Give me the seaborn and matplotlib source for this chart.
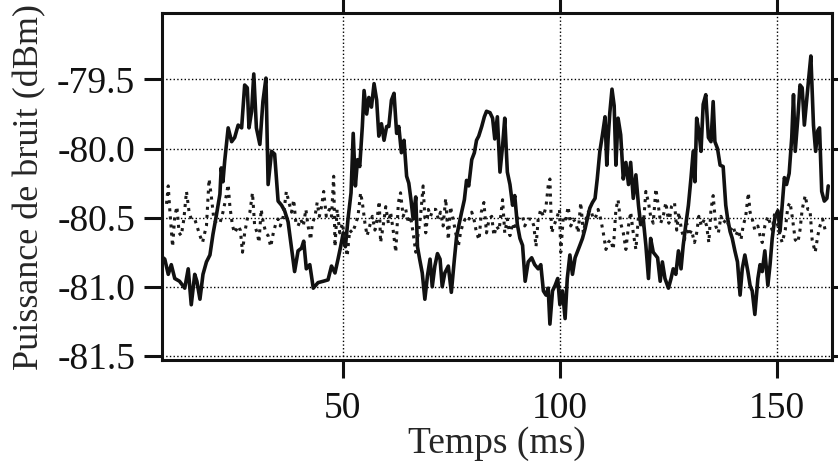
import matplotlib
matplotlib.use("Agg")
import matplotlib.pyplot as plt
import seaborn as sns

# solid trace (time in ms, power in dBm)
solid_t = [8.6, 9.0, 9.8, 10.5, 11.3, 12.4, 13.6, 14.4, 15.1, 15.9, 16.4, 17.1, 17.8, 18.6, 19.4,
           20.1, 20.9, 21.7, 22.0, 22.4, 22.8, 23.6, 24.4, 25.1, 25.9, 26.7, 27.4, 28.0, 28.4,
           29.0, 29.5, 30.1, 30.9, 31.6, 32.3, 32.8, 33.6, 34.3, 35.1, 35.9, 36.6, 37.4, 38.2,
           38.9, 39.7, 40.5, 41.0, 41.6, 42.4, 43.2, 44.3, 45.5,
           46.6, 47.4, 48.2, 48.9, 49.5, 50.1, 50.6, 51.2, 51.9, 52.4, 52.9, 53.4, 53.9, 54.5,
           54.9, 55.5, 56.0, 56.6, 57.2, 57.8, 58.3, 58.9, 59.5, 60.1, 60.6, 61.2, 61.8, 62.4,
           62.9, 63.5, 64.1, 64.7, 65.2, 65.7, 66.2, 66.8, 67.2, 67.7, 68.3, 68.9, 69.5, 70.1,
           70.6, 71.2, 71.8, 72.4, 72.9, 73.5, 74.3, 75.0, 75.7, 76.2, 76.7, 77.3, 78.0, 78.5,
           79.0, 79.7, 80.3, 80.8, 81.3, 82.0, 82.6, 83.1,
           83.9, 84.5, 85.0, 85.6, 86.2, 86.8, 87.3, 87.9, 88.5, 89.1, 89.6, 90.2, 90.8, 91.4,
           92.0, 92.7, 93.5, 94.2, 95.0, 95.6, 96.2, 96.8, 97.3, 97.7, 98.3, 98.9, 99.5, 100.0,
           100.6, 101.2, 101.7, 102.3, 102.9, 103.5, 104.0, 104.6, 105.2, 105.8, 106.3, 106.9,
           107.5, 108.1, 108.6, 109.2, 109.8, 110.4, 110.8, 111.1, 111.5, 112.0, 112.5, 112.9,
           113.4, 114.0, 114.6, 115.2, 115.8, 116.3, 116.9, 117.5, 118.1, 118.6, 119.2, 119.8,
           120.4, 120.9, 121.5,
           122.5, 123.1, 123.6, 124.2, 125.0, 125.6, 126.1, 126.7, 127.3, 127.9, 128.4, 129.0,
           129.6, 130.2, 130.7, 131.1, 131.5, 132.0, 132.5, 133.0, 133.6, 134.2, 134.8, 135.3,
           135.7, 136.3, 136.9, 137.6, 138.2, 138.6, 139.2, 139.7, 140.3, 140.9, 141.5, 142.0,
           142.6, 143.3, 143.8, 144.3, 144.9, 145.6, 146.1, 146.6, 147.2, 147.9, 148.4, 148.9,
           149.5, 150.2, 150.7, 151.2, 151.7, 152.2, 152.8, 153.4, 153.8, 154.2, 154.8, 155.3,
           155.8, 156.3, 156.8, 157.4, 157.8, 158.4, 158.9, 159.4, 159.8, 160.3, 160.9, 161.5,
           161.8]
solid_v = [-80.79, -80.80, -80.91, -80.84, -80.94, -80.96, -81.01, -80.87, -81.13, -80.91, -80.96,
           -81.09, -80.91, -80.82, -80.77, -80.62, -80.48, -80.33, -80.14, -80.24, -80.09, -79.85,
           -79.95, -79.92, -79.83, -79.85, -79.54, -79.56, -79.85, -79.73, -79.46, -79.85, -79.97,
           -79.66, -79.49, -80.26, -80.02, -80.04, -80.38, -80.41, -80.45, -80.53, -80.72, -80.89,
           -80.74, -80.72, -80.67, -80.87, -80.84, -81.01, -80.97, -80.96,
           -80.95, -80.85, -80.90, -80.80, -80.71, -80.61, -80.71, -80.51, -80.32, -79.89, -80.27,
           -80.08, -80.13, -79.84, -79.58, -79.75, -79.63, -79.70, -79.53, -79.65, -79.91, -79.82,
           -79.94, -79.84, -79.84, -79.65, -79.60, -79.89, -79.84, -80.03, -79.94, -80.20, -80.25,
           -80.37, -80.51, -80.35, -80.71, -80.80, -80.90, -81.09, -80.92, -80.80, -81.00, -80.85,
           -80.76, -80.80, -81.00, -80.90, -80.85, -81.04, -80.80, -80.64, -80.56, -80.47, -80.37,
           -80.23, -80.27, -80.08, -80.03, -79.94, -79.91, -79.84, -79.77, -79.73,
           -79.74, -79.78, -79.93, -79.77, -80.17, -79.98, -79.78, -80.17, -80.26, -80.41, -80.34,
           -80.55, -80.65, -80.70, -80.96, -80.82, -80.79, -80.84, -80.87, -80.84, -81.03, -81.06,
           -81.01, -81.27, -81.03, -80.99, -80.94, -81.13, -81.03, -81.23, -80.94, -80.77, -80.91,
           -80.79, -80.75, -80.70, -80.65, -80.58, -80.51, -80.43, -80.39, -80.36, -80.22, -80.02,
           -79.90, -79.77, -80.12, -79.93, -79.74, -79.57, -79.69, -80.12, -79.78, -79.90, -80.22,
           -80.10, -80.26, -80.10, -80.36, -80.19, -80.41, -80.55, -80.51, -80.70, -80.94, -80.65,
           -80.75,
           -80.79, -80.96, -80.82, -80.94, -81.01, -80.94, -80.87, -80.91, -80.74, -80.87, -80.70,
           -80.55, -80.41, -80.21, -80.02, -80.24, -79.78, -79.87, -80.02, -79.68, -79.61, -79.92,
           -79.95, -79.66, -79.95, -80.00, -80.12, -80.13, -80.41, -80.50, -80.60, -80.65, -80.74,
           -80.82, -81.06, -80.87, -80.77, -80.89, -80.99, -81.03, -81.20, -80.94, -80.84, -80.89,
           -80.74, -80.99, -80.84, -80.65, -80.50, -80.45, -80.60, -80.41, -80.21, -80.26, -80.18,
           -79.92, -79.61, -80.02, -79.78, -79.54, -79.56, -79.83, -79.66, -79.46, -79.33, -79.83,
           -80.02, -79.87, -79.85, -80.31, -80.38, -80.36, -80.27]

# dotted trace
dot_t = [9.4, 9.8, 10.1, 10.8, 11.3, 11.8, 12.3, 12.8, 13.4, 14.0, 14.6, 15.1, 15.9, 16.4, 17.1,
         17.7, 18.2, 18.6, 19.2, 19.7, 20.3, 20.9, 21.7, 22.4, 23.0, 23.6, 24.0, 24.6, 25.1, 25.9,
         26.4, 26.9, 27.4, 28.0, 28.6, 29.2, 29.7, 30.3, 30.7, 31.2, 31.7, 32.3, 32.8, 33.4, 34.0,
         34.6, 35.1, 35.6, 36.3, 37.0, 37.6, 38.2, 38.7, 39.2, 39.7, 40.3, 40.9, 41.5, 42.0, 42.6,
         43.0, 43.6, 44.1, 44.6, 45.1, 45.6, 46.2, 46.9,
         47.4, 47.9, 48.2, 48.7, 49.3, 49.9, 50.5, 51.0, 51.6, 52.2, 52.8, 53.5, 54.1, 54.5, 55.1,
         55.6, 56.2, 56.8, 57.4, 57.9, 58.4, 58.7, 59.3, 59.9, 60.5, 61.0, 61.6, 62.2, 62.8, 63.3,
         63.9, 64.5, 65.1, 65.6, 66.2, 66.8, 67.4, 67.9, 68.5, 69.1, 69.7, 70.2, 70.8, 71.4, 72.0,
         72.5, 73.1, 73.7, 74.3, 74.8, 75.4, 76.0, 76.6, 77.1, 77.7, 78.5, 79.1, 79.7, 80.2, 80.8,
         81.4, 81.9, 82.5, 83.1, 83.7, 84.3, 84.8, 85.4, 86.0,
         86.8, 87.3, 87.9, 88.5, 89.1, 89.6, 90.2, 90.8, 91.4, 91.9, 92.7, 93.5, 94.0, 94.5, 95.0,
         95.6, 96.2, 96.8, 97.3, 97.7, 98.1, 98.6, 99.2, 99.9, 100.2, 100.8, 101.4, 101.9, 102.5,
         103.1, 103.7, 104.2, 104.8, 105.4, 106.0, 106.5, 107.1, 107.7, 108.3, 108.8, 109.4,
         110.0, 110.6, 111.1, 111.7, 112.3, 112.9, 113.4, 114.0, 114.6, 115.2, 115.8, 116.3,
         116.9, 117.5, 118.1, 118.6, 119.2, 119.8, 120.4, 120.9, 121.5, 122.1, 122.7, 123.2,
         123.8, 124.4,
         125.1, 125.7, 126.4, 126.9, 127.4, 128.0, 128.7, 129.2, 129.7, 130.3, 131.0, 131.5,
         132.0, 132.6, 133.3, 133.8, 134.3, 134.8, 135.3, 135.9, 136.5, 137.1, 137.6, 138.4,
         139.2, 139.9, 140.5, 141.1, 141.7, 142.2, 142.8, 143.4, 143.8, 144.3, 144.9, 145.6,
         146.1, 146.6, 147.2, 147.9, 148.4, 148.9, 149.5, 150.2, 150.7, 151.2, 151.9, 152.5,
         153.0, 153.5, 154.2, 154.8, 155.3, 155.8, 156.5, 157.1, 157.6, 158.1, 158.8, 159.4,
         159.9, 160.5, 161.1, 161.7]
dot_v = [-80.40, -80.27, -80.42, -80.71, -80.49, -80.42, -80.61, -80.63, -80.51, -80.31, -80.46,
         -80.51, -80.51, -80.56, -80.63, -80.68, -80.61, -80.56, -80.22, -80.34, -80.51, -80.54,
         -80.54, -80.46, -80.37, -80.26, -80.42, -80.56, -80.61, -80.56, -80.59, -80.75, -80.61,
         -80.51, -80.46, -80.32, -80.56, -80.61, -80.68, -80.44, -80.54, -80.61, -80.63, -80.71,
         -80.61, -80.54, -80.51, -80.56, -80.49, -80.31, -80.39, -80.46, -80.37, -80.54, -80.56,
         -80.51, -80.56, -80.44, -80.56, -80.66, -80.54, -80.49, -80.39, -80.49, -80.42, -80.31,
         -80.49, -80.44,
         -80.49, -80.20, -80.71, -80.44, -80.61, -80.54, -80.66, -80.78, -80.59, -80.61, -80.56,
         -80.49, -80.32, -80.39, -80.54, -80.63, -80.56, -80.49, -80.59, -80.51, -80.38, -80.68,
         -80.56, -80.42, -80.54, -80.46, -80.59, -80.75, -80.39, -80.32, -80.49, -80.44, -80.54,
         -80.49, -80.61, -80.75, -80.61, -80.49, -80.27, -80.61, -80.44, -80.49, -80.44, -80.44,
         -80.51, -80.46, -80.56, -80.36, -80.66, -80.42, -80.51, -80.61, -80.71, -80.61, -80.54,
         -80.49, -80.51, -80.46, -80.51, -80.61, -80.66, -80.46, -80.39, -80.61, -80.51, -80.49,
         -80.63, -80.56, -80.59,
         -80.37, -80.61, -80.51, -80.63, -80.54, -80.59, -80.51, -80.49, -80.49, -80.56, -80.51,
         -80.51, -80.56, -80.71, -80.51, -80.44, -80.49, -80.42, -80.27, -80.22, -80.61, -80.56,
         -80.51, -80.44, -80.75, -80.49, -80.51, -80.42, -80.56, -80.51, -80.54, -80.61, -80.39,
         -80.61, -80.51, -80.46, -80.44, -80.51, -80.49, -80.44, -80.51, -80.61, -80.73, -80.68,
         -80.66, -80.73, -80.44, -80.37, -80.54, -80.61, -80.73, -80.56, -80.46, -80.61, -80.73,
         -80.49, -80.49, -80.56, -80.31, -80.39, -80.49, -80.54, -80.29, -80.42, -80.54, -80.49,
         -80.39,
         -80.54, -80.42, -80.39, -80.59, -80.46, -80.59, -80.66, -80.54, -80.63, -80.59, -80.68,
         -80.61, -80.49, -80.56, -80.51, -80.56, -80.68, -80.44, -80.34, -80.56, -80.61, -80.49,
         -80.54, -80.51, -80.59, -80.56, -80.63, -80.59, -80.66, -80.56, -80.49, -80.32, -80.46,
         -80.51, -80.59, -80.56, -80.63, -80.68, -80.56, -80.49, -80.54, -80.59, -80.46, -80.56,
         -80.63, -80.68, -80.59, -80.42, -80.39, -80.49, -80.66, -80.68, -80.59, -80.44, -80.34,
         -80.44, -80.44, -80.66, -80.75, -80.63, -80.56, -80.51, -80.59, -80.61]

x_ticks = [50, 100, 150]
y_ticks = [-81.5, -81.0, -80.5, -80.0, -79.5]

sns.set_style("ticks")
plt.rcParams['font.family'] = ['Liberation Serif', 'DejaVu Serif']
plt.rcParams['axes.unicode_minus'] = False

fig, ax = plt.subplots(figsize=(8.38, 4.70), dpi=100)
fig.subplots_adjust(left=0.193, right=0.993, bottom=0.234, top=0.972)

sns.lineplot(x=solid_t, y=solid_v, ax=ax, color="#111111", linewidth=2.6,
             sort=False, estimator=None)
sns.lineplot(x=dot_t, y=dot_v, ax=ax, color="#1a1a1a", linewidth=2.2, linestyle=":",
             sort=False, estimator=None)

ax.set_xlim(8.3, 162.7)
ax.set_ylim(-81.53, -79.02)
ax.set_xticks(x_ticks)
ax.set_yticks(y_ticks)
ax.set_yticklabels([f"{v:.1f}" for v in y_ticks])
ax.grid(True, linestyle=":", color="black", linewidth=1.0)

for s in ax.spines.values():
    s.set_linewidth(2.2)
    s.set_color("#111111")

ax.tick_params(axis="both", direction="out", length=13, width=2.2, labelsize=27,
               top=True, right=True, colors="#111111")
ax.tick_params(axis="x", pad=10)
ax.tick_params(axis="y", pad=6)
for tk in ax.yaxis.get_major_ticks():
    tk.tick2line.set_markersize(6)

ax.set_xlabel("Temps (ms)", fontsize=27, labelpad=0)
ax.set_ylabel("Puissance de bruit (dBm)", fontsize=26, labelpad=8)

fig.savefig("out.png", dpi=100)
